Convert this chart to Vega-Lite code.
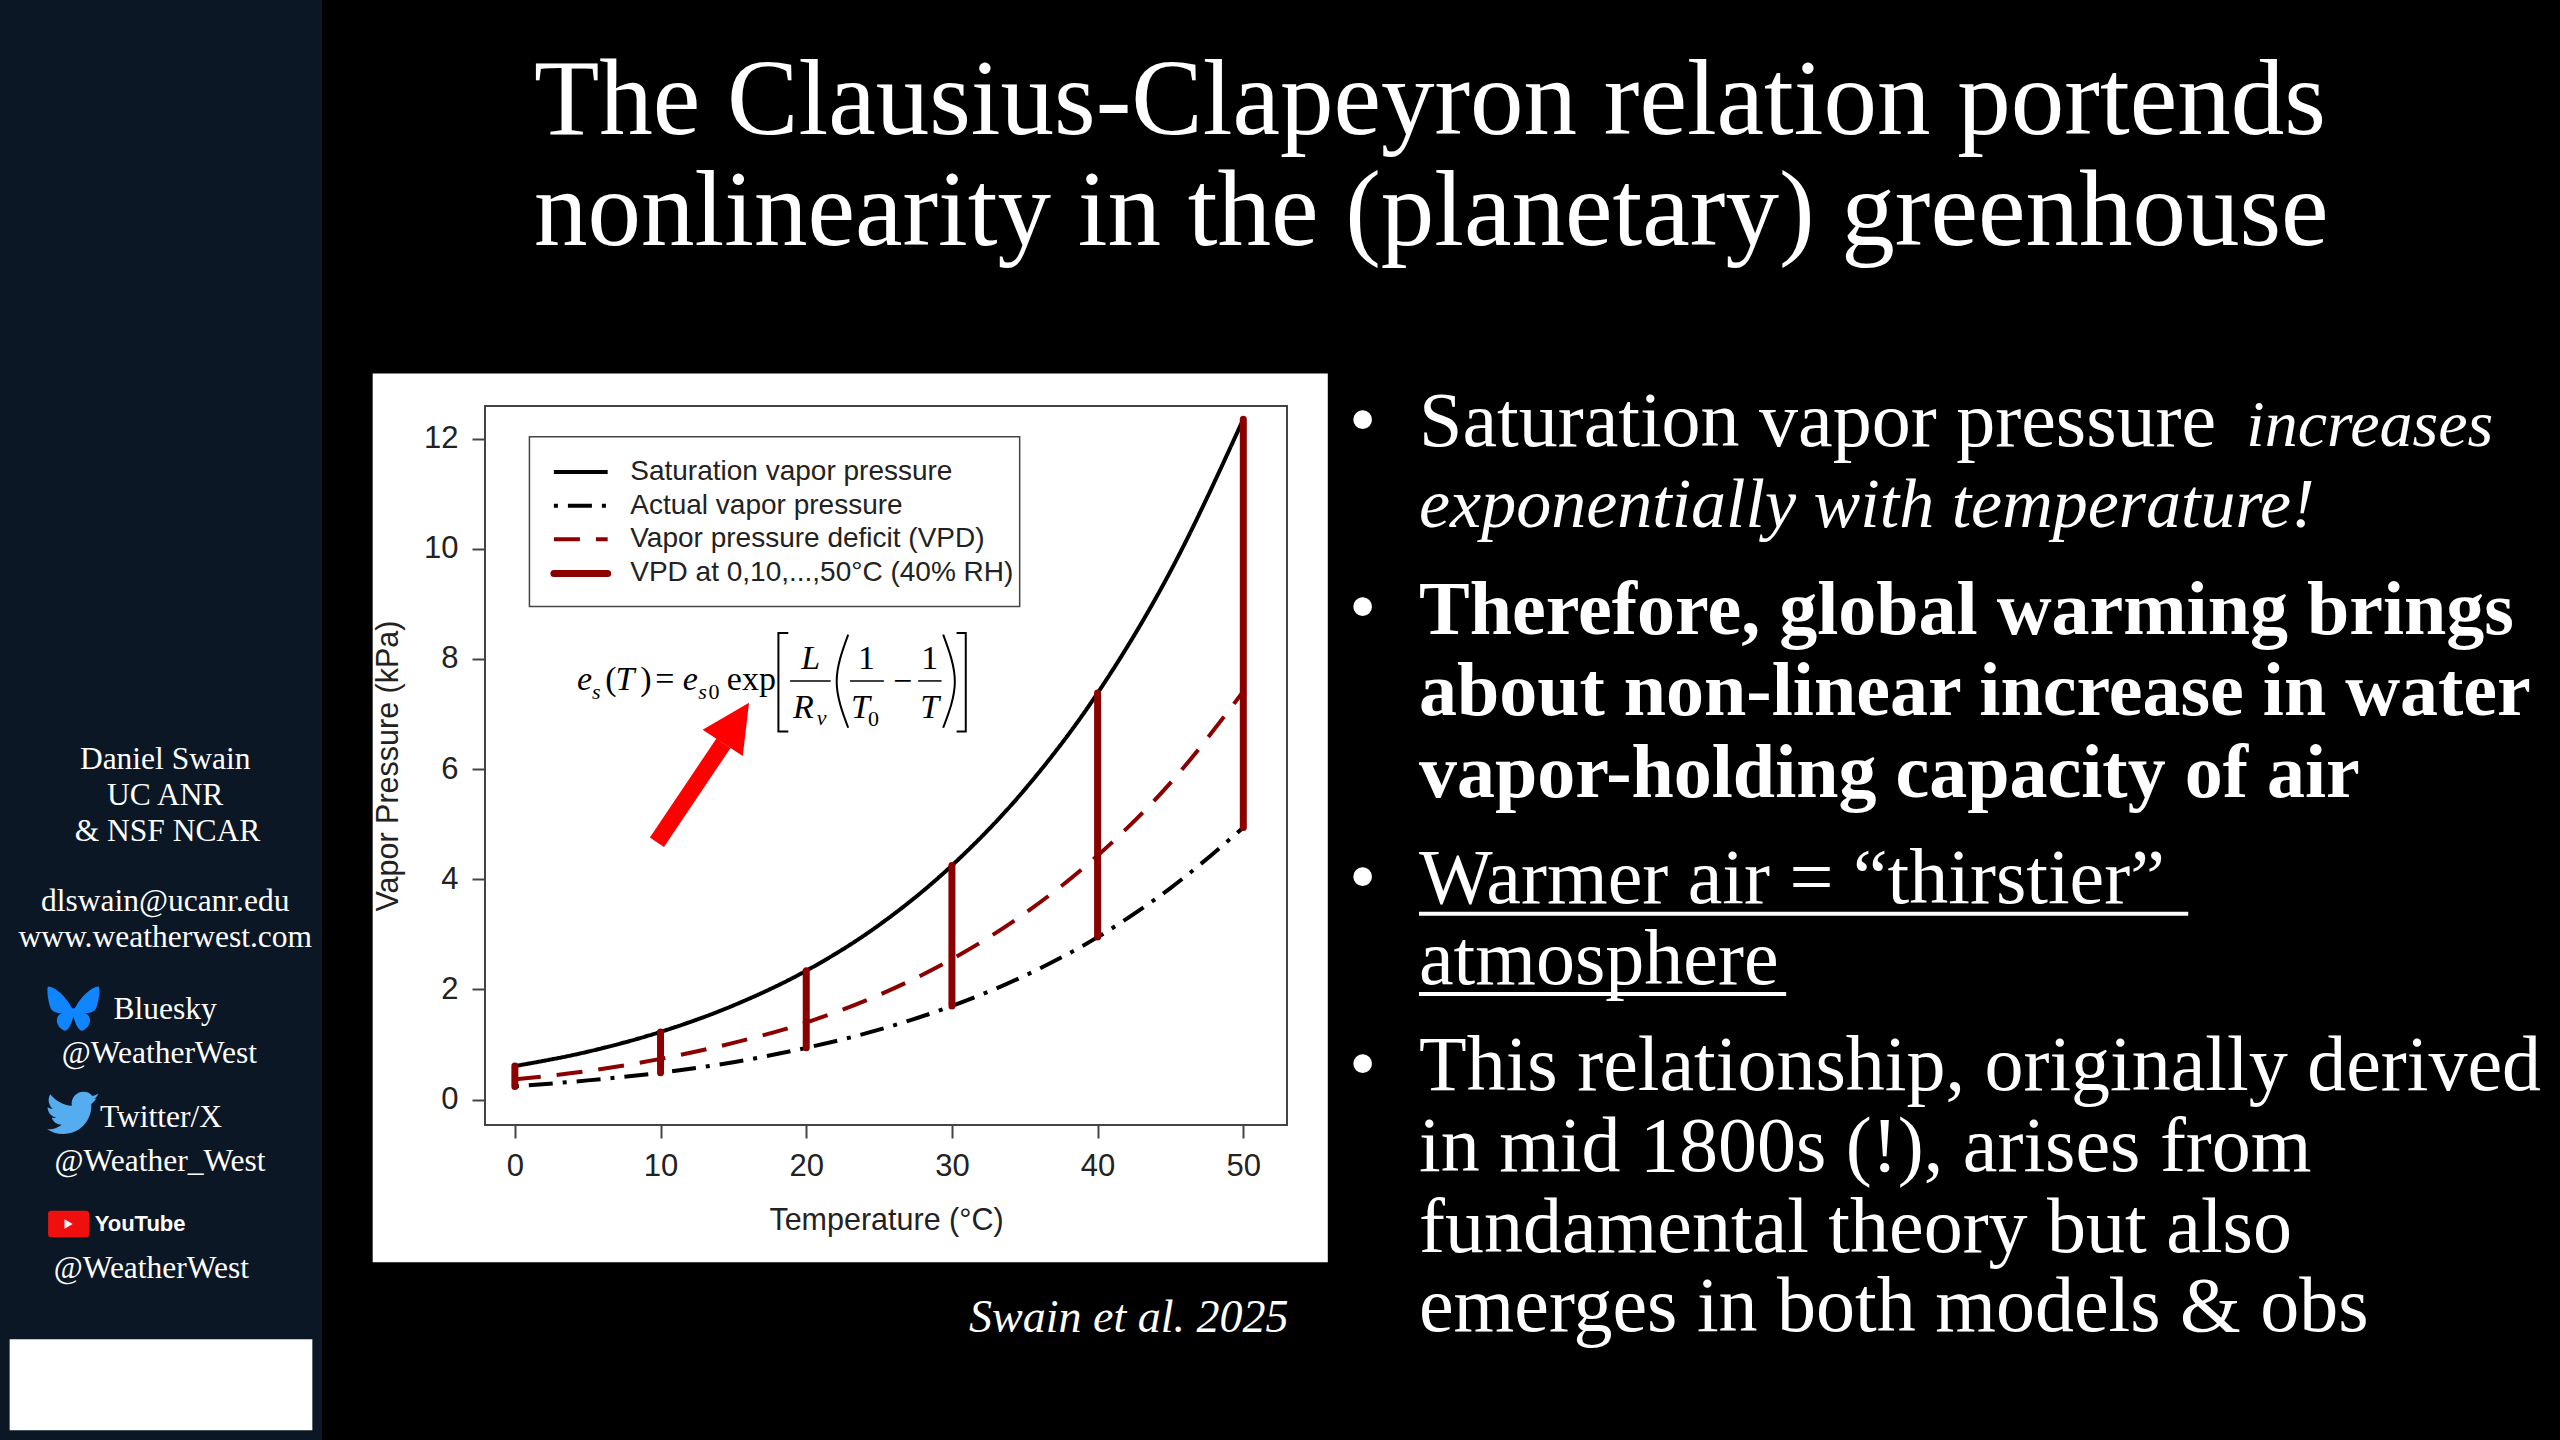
{
  "$schema": "https://vega.github.io/schema/vega-lite/v6.json",
  "background": "#000000",
  "padding": 0,
  "bounds": "flush",
  "spacing": 163,
  "config": {"view": {"stroke": null}, "text": {"font": "Liberation Serif"}},
  "datasets": {
    "sidebar_text": [
      {"col": 51.3, "line": 21.36, "text": "Daniel Swain"},
      {"col": 51.3, "line": 22.36, "text": "UC ANR"},
      {"col": 52, "line": 23.36, "text": "& NSF NCAR"},
      {"col": 51.3, "line": 25.31, "text": "dlswain@ucanr.edu"},
      {"col": 51.3, "line": 26.31, "text": "www.weatherwest.com"},
      {"col": 51.3, "line": 28.3, "text": "Bluesky"},
      {"col": 49.5, "line": 29.52, "text": "@WeatherWest"},
      {"col": 50, "line": 31.3, "text": "Twitter/X"},
      {"col": 49.7, "line": 32.52, "text": "@Weather_West"},
      {"col": 47, "line": 35.5, "text": "@WeatherWest"}
    ],
    "curves": [
      {"temp": 0, "value": 0.61, "series": "Saturation vapor pressure"},
      {"temp": 5, "value": 0.87, "series": "Saturation vapor pressure"},
      {"temp": 10, "value": 1.23, "series": "Saturation vapor pressure"},
      {"temp": 15, "value": 1.71, "series": "Saturation vapor pressure"},
      {"temp": 20, "value": 2.34, "series": "Saturation vapor pressure"},
      {"temp": 25, "value": 3.17, "series": "Saturation vapor pressure"},
      {"temp": 30, "value": 4.25, "series": "Saturation vapor pressure"},
      {"temp": 35, "value": 5.63, "series": "Saturation vapor pressure"},
      {"temp": 40, "value": 7.38, "series": "Saturation vapor pressure"},
      {"temp": 45, "value": 9.59, "series": "Saturation vapor pressure"},
      {"temp": 50, "value": 12.35, "series": "Saturation vapor pressure"},
      {"temp": 0, "value": 0.24, "series": "Actual vapor pressure"},
      {"temp": 5, "value": 0.35, "series": "Actual vapor pressure"},
      {"temp": 10, "value": 0.49, "series": "Actual vapor pressure"},
      {"temp": 15, "value": 0.68, "series": "Actual vapor pressure"},
      {"temp": 20, "value": 0.94, "series": "Actual vapor pressure"},
      {"temp": 25, "value": 1.27, "series": "Actual vapor pressure"},
      {"temp": 30, "value": 1.7, "series": "Actual vapor pressure"},
      {"temp": 35, "value": 2.25, "series": "Actual vapor pressure"},
      {"temp": 40, "value": 2.95, "series": "Actual vapor pressure"},
      {"temp": 45, "value": 3.84, "series": "Actual vapor pressure"},
      {"temp": 50, "value": 4.94, "series": "Actual vapor pressure"},
      {"temp": 0, "value": 0.37, "series": "Vapor pressure deficit (VPD)"},
      {"temp": 5, "value": 0.52, "series": "Vapor pressure deficit (VPD)"},
      {"temp": 10, "value": 0.74, "series": "Vapor pressure deficit (VPD)"},
      {"temp": 15, "value": 1.03, "series": "Vapor pressure deficit (VPD)"},
      {"temp": 20, "value": 1.4, "series": "Vapor pressure deficit (VPD)"},
      {"temp": 25, "value": 1.9, "series": "Vapor pressure deficit (VPD)"},
      {"temp": 30, "value": 2.55, "series": "Vapor pressure deficit (VPD)"},
      {"temp": 35, "value": 3.38, "series": "Vapor pressure deficit (VPD)"},
      {"temp": 40, "value": 4.43, "series": "Vapor pressure deficit (VPD)"},
      {"temp": 45, "value": 5.75, "series": "Vapor pressure deficit (VPD)"},
      {"temp": 50, "value": 7.41, "series": "Vapor pressure deficit (VPD)"}
    ],
    "vpd_bars": [
      {"temp": 0, "low": 0.24, "high": 0.61},
      {"temp": 10, "low": 0.49, "high": 1.23},
      {"temp": 20, "low": 0.94, "high": 2.34},
      {"temp": 30, "low": 1.7, "high": 4.25},
      {"temp": 40, "low": 2.95, "high": 7.38},
      {"temp": 50, "low": 4.94, "high": 12.35}
    ],
    "key_lines": [
      {"temp": 2.68, "value": 11.39, "series": "Saturation vapor pressure"},
      {"temp": 6.37, "value": 11.39, "series": "Saturation vapor pressure"},
      {"temp": 2.68, "value": 10.78, "series": "Actual vapor pressure"},
      {"temp": 6.37, "value": 10.78, "series": "Actual vapor pressure"},
      {"temp": 2.68, "value": 10.17, "series": "Vapor pressure deficit (VPD)"},
      {"temp": 6.37, "value": 10.17, "series": "Vapor pressure deficit (VPD)"}
    ],
    "key_text": [
      {"temp": 7.92, "value": 11.39, "text": "Saturation vapor pressure"},
      {"temp": 7.92, "value": 10.78, "text": "Actual vapor pressure"},
      {"temp": 7.92, "value": 10.17, "text": "Vapor pressure deficit (VPD)"},
      {"temp": 7.92, "value": 9.55, "text": "VPD at 0,10,...,50°C (40% RH)"}
    ],
    "eq_italic": [
      {"temp": 4.27, "value": 7.44, "text": "e"},
      {"temp": 6.9, "value": 7.44, "text": "T"},
      {"temp": 11.53, "value": 7.44, "text": "e"},
      {"temp": 19.65, "value": 7.82, "text": "L"},
      {"temp": 19.09, "value": 6.93, "text": "R"},
      {"temp": 23.07, "value": 6.93, "text": "T"},
      {"temp": 27.83, "value": 6.93, "text": "T"}
    ],
    "eq_roman": [
      {"temp": 6.21, "value": 7.44, "text": "("},
      {"temp": 8.6, "value": 7.44, "text": ")"},
      {"temp": 9.64, "value": 7.44, "text": "="},
      {"temp": 14.55, "value": 7.44, "text": "exp"},
      {"temp": 23.56, "value": 7.82, "text": "1"},
      {"temp": 25.95, "value": 7.4, "text": "−"},
      {"temp": 27.9, "value": 7.82, "text": "1"}
    ],
    "eq_sub_italic": [
      {"temp": 5.3, "value": 7.27, "text": "s"},
      {"temp": 12.58, "value": 7.27, "text": "s"},
      {"temp": 20.72, "value": 6.8, "text": "v"}
    ],
    "eq_sub_roman": [
      {"temp": 13.29, "value": 7.27, "text": "0"},
      {"temp": 24.24, "value": 6.79, "text": "0"}
    ],
    "eq_bars": [
      {"temp": 18.89, "temp2": 21.68, "value": 7.6},
      {"temp": 23.0, "temp2": 25.33, "value": 7.6},
      {"temp": 27.68, "temp2": 29.29, "value": 7.6}
    ],
    "eq_brackets": [
      {"part": "left", "seq": 1, "temp": 18.77, "value": 8.47},
      {"part": "left", "seq": 2, "temp": 18.09, "value": 8.47},
      {"part": "left", "seq": 3, "temp": 18.09, "value": 6.68},
      {"part": "left", "seq": 4, "temp": 18.77, "value": 6.68},
      {"part": "right", "seq": 1, "temp": 30.32, "value": 8.47},
      {"part": "right", "seq": 2, "temp": 30.95, "value": 8.47},
      {"part": "right", "seq": 3, "temp": 30.95, "value": 6.68},
      {"part": "right", "seq": 4, "temp": 30.32, "value": 6.68}
    ],
    "eq_parens": [
      {"part": "left", "seq": 1, "temp": 22.88, "value": 8.44},
      {"part": "left", "seq": 2, "temp": 22.09, "value": 7.59},
      {"part": "left", "seq": 3, "temp": 22.88, "value": 6.75},
      {"part": "right", "seq": 1, "temp": 29.4, "value": 8.44},
      {"part": "right", "seq": 2, "temp": 30.2, "value": 7.59},
      {"part": "right", "seq": 3, "temp": 29.4, "value": 6.75}
    ],
    "bullets_regular": [
      {"col": 0, "line": 1, "text": "•"},
      {"col": 5.78, "line": 1, "text": "Saturation vapor pressure"},
      {"col": 0, "line": 3.3, "text": "•"},
      {"col": 0, "line": 6.63, "text": "•"},
      {"col": 5.78, "line": 6.63, "text": "Warmer air = “thirstier”"},
      {"col": 5.78, "line": 7.62, "text": "atmosphere"},
      {"col": 0, "line": 8.93, "text": "•"},
      {"col": 5.78, "line": 8.93, "text": "This relationship, originally derived"},
      {"col": 5.78, "line": 9.93, "text": "in mid 1800s (!), arises from"},
      {"col": 5.78, "line": 10.92, "text": "fundamental theory but also"},
      {"col": 5.78, "line": 11.9, "text": "emerges in both models & obs"}
    ],
    "bullets_bold": [
      {"col": 5.78, "line": 3.32, "text": "Therefore, global warming brings"},
      {"col": 5.78, "line": 4.32, "text": "about non-linear increase in water"},
      {"col": 5.78, "line": 5.32, "text": "vapor-holding capacity of air"}
    ]
  },
  "hconcat": [
    {
      "width": 322,
      "height": 1440,
      "view": {"fill": "#0c1726", "stroke": null},
      "encoding": {
        "x": {"field": "col", "type": "quantitative", "axis": null, "scale": {"domain": [0, 100], "nice": false}},
        "y": {"field": "line", "type": "quantitative", "axis": null, "scale": {"domain": [0, 40], "reverse": true, "nice": false, "zero": false}}
      },
      "layer": [
        {
          "data": {"values": [{"col": 3, "col2": 97, "line": 37.2, "line2": 39.73}]},
          "mark": {"type": "rect", "color": "#ffffff"},
          "encoding": {"x2": {"field": "col2"}, "y2": {"field": "line2"}}
        },
        {
          "data": {"name": "sidebar_text"},
          "mark": {"type": "text", "font": "Liberation Serif", "fontSize": 31.5, "color": "#ffffff", "baseline": "alphabetic"},
          "encoding": {"text": {"field": "text"}}
        },
        {
          "data": {"values": [{"col": 22.8, "line": 28.03}]},
          "mark": {"type": "point", "filled": true, "opacity": 1, "size": 2500, "color": "#1185fe",
            "shape": "M-0.1,-0.1 C-0.3,-0.5 -0.75,-0.9 -1,-0.9 C-1.1,-0.9 -1,-0.1 -0.85,0.05 C-0.75,0.15 -0.5,0.2 -0.4,0.15 C-0.8,0.25 -0.7,0.7 -0.4,0.85 C-0.2,0.95 -0.05,0.5 0,0.3 C0.05,0.5 0.2,0.95 0.4,0.85 C0.7,0.7 0.8,0.25 0.4,0.15 C0.5,0.2 0.75,0.15 0.85,0.05 C1,-0.1 1.1,-0.9 1,-0.9 C0.75,-0.9 0.3,-0.5 0.1,-0.1 C0.05,0 -0.05,0 -0.1,-0.1 Z"}
        },
        {
          "data": {"values": [{"col": 22.3, "line": 30.93}]},
          "mark": {"type": "point", "filled": true, "opacity": 1, "size": 2500, "color": "#55acee",
            "shape": "M1,-0.62 C0.93,-0.52 0.85,-0.44 0.78,-0.38 C0.78,-0.35 0.78,-0.33 0.78,-0.3 C0.78,0.25 0.36,0.82 -0.35,0.82 C-0.6,0.82 -0.82,0.74 -1,0.62 C-0.97,0.63 -0.94,0.63 -0.9,0.63 C-0.7,0.63 -0.55,0.56 -0.4,0.45 C-0.6,0.45 -0.75,0.33 -0.8,0.17 C-0.73,0.18 -0.67,0.18 -0.62,0.16 C-0.82,0.12 -0.97,-0.05 -0.97,-0.25 C-0.9,-0.21 -0.83,-0.19 -0.76,-0.19 C-0.93,-0.32 -0.98,-0.58 -0.86,-0.77 C-0.65,-0.5 -0.33,-0.33 0,-0.31 C-0.05,-0.62 0.18,-0.87 0.47,-0.87 C0.61,-0.87 0.74,-0.81 0.83,-0.7 C0.92,-0.72 1,-0.75 1.06,-0.8 C1.03,-0.7 0.96,-0.62 0.88,-0.57 C0.93,-0.58 0.97,-0.6 1,-0.62 Z"}
        },
        {
          "data": {"values": [{"col": 21.3, "line": 34.0}]},
          "mark": {"type": "point", "filled": true, "opacity": 1, "size": 1681, "color": "#f00f0f",
            "shape": "M-0.85,-0.65 L0.85,-0.65 Q1,-0.65 1,-0.5 L1,0.5 Q1,0.65 0.85,0.65 L-0.85,0.65 Q-1,0.65 -1,0.5 L-1,-0.5 Q-1,-0.65 -0.85,-0.65 Z"}
        },
        {
          "data": {"values": [{"col": 21.3, "line": 34.0}]},
          "mark": {"type": "point", "filled": true, "opacity": 1, "size": 90, "color": "#ffffff", "shape": "triangle-right"}
        },
        {
          "data": {"values": [{"col": 29.4, "line": 34.2, "text": "YouTube"}]},
          "mark": {"type": "text", "font": "Liberation Sans", "fontWeight": "bold", "fontSize": 22, "color": "#ffffff", "align": "left", "baseline": "alphabetic"},
          "encoding": {"text": {"field": "text"}}
        }
      ]
    },
    {
      "bounds": "flush",
      "spacing": 0,
      "vconcat": [
        {
          "width": 2075,
          "height": 406,
          "data": {"values": [
            {"col": 2.36, "line": 1, "text": "The Clausius-Clapeyron relation portends"},
            {"col": 2.36, "line": 2, "text": "nonlinearity in the (planetary) greenhouse"}
          ]},
          "mark": {"type": "text", "font": "Liberation Serif", "fontSize": 107, "color": "#ffffff", "align": "left", "baseline": "alphabetic"},
          "encoding": {
            "x": {"field": "col", "type": "quantitative", "axis": null, "scale": {"domain": [0, 100], "nice": false}},
            "y": {"field": "line", "type": "quantitative", "axis": null, "scale": {"domain": [-0.207, 3.45], "reverse": true, "nice": false, "zero": false}},
            "text": {"field": "text"}
          }
        },
        {
          "bounds": "flush",
          "spacing": 62,
          "hconcat": [
            {
              "width": 802,
              "height": 719,
              "layer": [
                {
                  "data": {"values": [{"temp": -9.76, "temp2": 55.8, "value": 13.18, "value2": -2.95}]},
                  "mark": {"type": "rect", "color": "#ffffff", "clip": false},
                  "encoding": {
                    "x": {"field": "temp", "type": "quantitative",
                      "scale": {"domain": [-2.05, 53], "nice": false, "zero": false},
                      "axis": {"values": [0, 10, 20, 30, 40, 50], "title": "Temperature (°C)", "zindex": 1, "grid": false, "domain": false, "ticks": true, "tickColor": "#444444", "tickWidth": 2, "tickSize": 13, "labelFont": "Liberation Sans", "labelFontSize": 31, "labelColor": "#222222", "labelPadding": 13, "labelFlush": false, "titleFont": "Liberation Sans", "titleFontSize": 30.5, "titleFontWeight": "normal", "titleColor": "#222222", "titlePadding": 24}},
                    "y": {"field": "value", "type": "quantitative",
                      "scale": {"domain": [-0.46, 12.59], "nice": false, "zero": false},
                      "axis": {"values": [0, 2, 4, 6, 8, 10, 12], "title": "Vapor Pressure (kPa)", "zindex": 1, "grid": false, "domain": false, "ticks": true, "tickColor": "#444444", "tickWidth": 2, "tickSize": 13, "labelFont": "Liberation Sans", "labelFontSize": 31, "labelColor": "#222222", "labelPadding": 14, "titleFont": "Liberation Sans", "titleFontSize": 30.5, "titleFontWeight": "normal", "titleColor": "#222222", "titlePadding": 20}},
                    "x2": {"field": "temp2"},
                    "y2": {"field": "value2"}
                  }
                },
                {
                  "data": {"values": [{"temp": -2.05, "temp2": 53, "value": -0.46, "value2": 12.59}]},
                  "mark": {"type": "rect", "filled": false, "stroke": "#444444", "strokeWidth": 2, "fill": null},
                  "encoding": {
                    "x": {"field": "temp", "type": "quantitative"},
                    "y": {"field": "value", "type": "quantitative"},
                    "x2": {"field": "temp2"},
                    "y2": {"field": "value2"}
                  }
                },
                {
                  "data": {"values": [{"temp": 1.0, "temp2": 34.65, "value": 12.03, "value2": 8.95}]},
                  "mark": {"type": "rect", "fill": "#ffffff", "stroke": "#444444", "strokeWidth": 1.5},
                  "encoding": {
                    "x": {"field": "temp", "type": "quantitative"},
                    "y": {"field": "value", "type": "quantitative"},
                    "x2": {"field": "temp2"},
                    "y2": {"field": "value2"}
                  }
                },
                {
                  "data": {"name": "curves"},
                  "mark": {"type": "line", "interpolate": "monotone", "strokeWidth": 4},
                  "encoding": {
                    "x": {"field": "temp", "type": "quantitative"},
                    "y": {"field": "value", "type": "quantitative"},
                    "color": {"field": "series", "type": "nominal", "legend": null,
                      "scale": {"domain": ["Saturation vapor pressure", "Actual vapor pressure", "Vapor pressure deficit (VPD)"], "range": ["#000000", "#000000", "#8b0000"]}},
                    "strokeDash": {"field": "series", "type": "nominal", "legend": null,
                      "scale": {"domain": ["Saturation vapor pressure", "Actual vapor pressure", "Vapor pressure deficit (VPD)"], "range": [[1, 0], [4, 10, 24, 10], [26, 16]]}}
                  }
                },
                {
                  "data": {"name": "key_lines"},
                  "mark": {"type": "line", "strokeWidth": 4},
                  "encoding": {
                    "x": {"field": "temp", "type": "quantitative"},
                    "y": {"field": "value", "type": "quantitative"},
                    "color": {"field": "series", "type": "nominal", "legend": null},
                    "strokeDash": {"field": "series", "type": "nominal", "legend": null}
                  }
                },
                {
                  "data": {"values": [{"temp": 2.68, "temp2": 6.37, "value": 9.55}]},
                  "mark": {"type": "rule", "strokeCap": "round", "color": "#8b0000", "strokeWidth": 7},
                  "encoding": {
                    "x": {"field": "temp", "type": "quantitative"},
                    "x2": {"field": "temp2"},
                    "y": {"field": "value", "type": "quantitative"}
                  }
                },
                {
                  "data": {"name": "key_text"},
                  "mark": {"type": "text", "font": "Liberation Sans", "fontSize": 28, "color": "#222222", "align": "left", "baseline": "middle"},
                  "encoding": {"x": {"field": "temp", "type": "quantitative"}, "y": {"field": "value", "type": "quantitative"}, "text": {"field": "text"}}
                },
                {
                  "data": {"name": "vpd_bars"},
                  "mark": {"type": "rule", "strokeCap": "round", "color": "#8b0000", "strokeWidth": 7},
                  "encoding": {
                    "x": {"field": "temp", "type": "quantitative"},
                    "y": {"field": "low", "type": "quantitative"},
                    "y2": {"field": "high"}
                  }
                },
                {
                  "data": {"values": [{"temp": 9.75, "temp2": 14.32, "value": 4.67, "value2": 6.47}]},
                  "mark": {"type": "rule", "color": "#ff0000", "strokeWidth": 17},
                  "encoding": {
                    "x": {"field": "temp", "type": "quantitative"},
                    "y": {"field": "value", "type": "quantitative"},
                    "x2": {"field": "temp2"},
                    "y2": {"field": "value2"}
                  }
                },
                {
                  "data": {"values": [{"temp": 15.17, "value": 6.84}]},
                  "mark": {"type": "point", "filled": true, "opacity": 1, "color": "#ff0000", "size": 2304, "angle": 33.3, "shape": "M0,-1 L1,1 L-1,1 Z"},
                  "encoding": {
                    "x": {"field": "temp", "type": "quantitative"},
                    "y": {"field": "value", "type": "quantitative"}
                  }
                },
                {
                  "data": {"name": "eq_italic"},
                  "mark": {"type": "text", "font": "Liberation Serif", "fontStyle": "italic", "fontSize": 34, "color": "#000000", "align": "left", "baseline": "alphabetic"},
                  "encoding": {"x": {"field": "temp", "type": "quantitative"}, "y": {"field": "value", "type": "quantitative"}, "text": {"field": "text"}}
                },
                {
                  "data": {"name": "eq_roman"},
                  "mark": {"type": "text", "font": "Liberation Serif", "fontSize": 34, "color": "#000000", "align": "left", "baseline": "alphabetic"},
                  "encoding": {"x": {"field": "temp", "type": "quantitative"}, "y": {"field": "value", "type": "quantitative"}, "text": {"field": "text"}}
                },
                {
                  "data": {"name": "eq_sub_italic"},
                  "mark": {"type": "text", "font": "Liberation Serif", "fontStyle": "italic", "fontSize": 22, "color": "#000000", "align": "left", "baseline": "alphabetic"},
                  "encoding": {"x": {"field": "temp", "type": "quantitative"}, "y": {"field": "value", "type": "quantitative"}, "text": {"field": "text"}}
                },
                {
                  "data": {"name": "eq_sub_roman"},
                  "mark": {"type": "text", "font": "Liberation Serif", "fontSize": 22, "color": "#000000", "align": "left", "baseline": "alphabetic"},
                  "encoding": {"x": {"field": "temp", "type": "quantitative"}, "y": {"field": "value", "type": "quantitative"}, "text": {"field": "text"}}
                },
                {
                  "data": {"name": "eq_bars"},
                  "mark": {"type": "rule", "color": "#000000", "strokeWidth": 1.5},
                  "encoding": {"x": {"field": "temp", "type": "quantitative"}, "x2": {"field": "temp2"}, "y": {"field": "value", "type": "quantitative"}}
                },
                {
                  "data": {"name": "eq_brackets"},
                  "mark": {"type": "line", "color": "#000000", "strokeWidth": 2},
                  "encoding": {"x": {"field": "temp", "type": "quantitative"}, "y": {"field": "value", "type": "quantitative"}, "detail": {"field": "part"}, "order": {"field": "seq"}}
                },
                {
                  "data": {"name": "eq_parens"},
                  "mark": {"type": "line", "color": "#000000", "strokeWidth": 2, "interpolate": "natural"},
                  "encoding": {"x": {"field": "temp", "type": "quantitative"}, "y": {"field": "value", "type": "quantitative"}, "detail": {"field": "part"}, "order": {"field": "seq"}}
                },
                {
                  "data": {"values": [{"temp": 53.1, "value": -4.22, "text": "Swain et al. 2025"}]},
                  "mark": {"type": "text", "font": "Liberation Serif", "fontStyle": "italic", "fontSize": 46, "color": "#ffffff", "align": "right", "baseline": "alphabetic"},
                  "encoding": {"x": {"field": "temp", "type": "quantitative"}, "y": {"field": "value", "type": "quantitative"}, "text": {"field": "text"}}
                }
              ]
            },
            {
              "width": 1211,
              "height": 1034,
              "encoding": {
                "x": {"field": "col", "type": "quantitative", "axis": null, "scale": {"domain": [0, 100], "nice": false}},
                "y": {"field": "line", "type": "quantitative", "axis": null, "scale": {"domain": [0.51, 13.24], "reverse": true, "nice": false, "zero": false}}
              },
              "layer": [
                {
                  "data": {"name": "bullets_regular"},
                  "mark": {"type": "text", "font": "Liberation Serif", "fontSize": 78, "color": "#ffffff", "align": "left", "baseline": "alphabetic"},
                  "encoding": {"text": {"field": "text"}}
                },
                {
                  "data": {"values": [{"col": 74.1, "line": 1, "text": "increases"}]},
                  "mark": {"type": "text", "font": "Liberation Serif", "fontStyle": "italic", "fontSize": 66, "color": "#ffffff", "align": "left", "baseline": "alphabetic"},
                  "encoding": {"text": {"field": "text"}}
                },
                {
                  "data": {"values": [{"col": 5.78, "line": 2, "text": "exponentially with temperature!"}]},
                  "mark": {"type": "text", "font": "Liberation Serif", "fontStyle": "italic", "fontSize": 70, "color": "#ffffff", "align": "left", "baseline": "alphabetic"},
                  "encoding": {"text": {"field": "text"}}
                },
                {
                  "data": {"name": "bullets_bold"},
                  "mark": {"type": "text", "font": "Liberation Serif", "fontWeight": "bold", "fontSize": 76, "color": "#ffffff", "align": "left", "baseline": "alphabetic"},
                  "encoding": {"text": {"field": "text"}}
                },
                {
                  "data": {"values": [
                    {"col": 5.78, "col2": 69.3, "line": 6.76},
                    {"col": 5.78, "col2": 36.1, "line": 7.75}
                  ]},
                  "mark": {"type": "rule", "color": "#ffffff", "strokeWidth": 4},
                  "encoding": {"x2": {"field": "col2"}}
                }
              ]
            }
          ]
        }
      ]
    }
  ]
}
